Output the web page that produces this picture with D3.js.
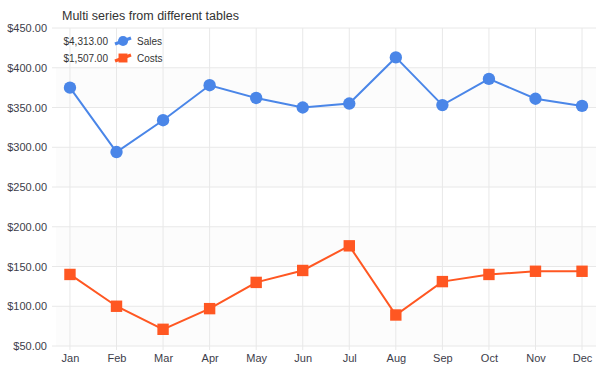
<!DOCTYPE html>
<html>
<head>
<meta charset="utf-8">
<script src="https://cdn.jsdelivr.net/npm/d3@7"></script>
<style>
  body { margin: 0; background: #fff; }
  svg text { font-family: "Liberation Sans", Tahoma, sans-serif; }
</style>
</head>
<body>
<div id="chart"></div>
<script>
// ============ data =====================
var months = ["Jan", "Feb", "Mar", "Apr", "May", "Jun", "Jul", "Aug", "Sep", "Oct", "Nov", "Dec"];
var sales = [375, 294, 334, 378, 362, 350, 355, 413, 353, 386, 361, 352];
var costs = [140, 100, 71, 97, 130, 145, 176, 89, 131, 140, 144, 144];
var yTicks = [50, 100, 150, 200, 250, 300, 350, 400, 450];

//============ set up chart =====================
var svgWidth = 604;
var svgHeight = 374;

var margin = { top: 28, right: 8, bottom: 28, left: 56 };
var width = svgWidth - margin.left - margin.right;
var height = svgHeight - margin.top - margin.bottom;

var svg = d3.select("#chart")
  .append("svg")
  .attr("width", svgWidth)
  .attr("height", svgHeight);

var chartGroup = svg.append("g")
  .attr("transform", `translate(${margin.left}, ${margin.top})`);

var money = d3.format("$,.2f");

var xScale = d3.scalePoint()
  .domain(months)
  .range([0, width])
  .padding(0.3);

var yScale = d3.scaleLinear()
  .domain([50, 450])
  .range([height, 0]);

// alternating bands
chartGroup.append("g")
  .selectAll("rect")
  .data(yTicks.slice(0, -1).filter((d, i) => i % 2 === 0))
  .enter()
  .append("rect")
  .attr("x", 0)
  .attr("width", width)
  .attr("y", d => yScale(d + 50))
  .attr("height", d => yScale(d) - yScale(d + 50))
  .attr("fill", "#fcfcfc");

// grid
chartGroup.append("g")
  .selectAll("line")
  .data(yTicks)
  .enter()
  .append("line")
  .attr("x1", -4)
  .attr("x2", width)
  .attr("y1", d => yScale(d))
  .attr("y2", d => yScale(d))
  .attr("stroke", "#e8e8e8");

chartGroup.append("g")
  .selectAll("line")
  .data(months)
  .enter()
  .append("line")
  .attr("x1", d => xScale(d))
  .attr("x2", d => xScale(d))
  .attr("y1", 0)
  .attr("y2", height + 4)
  .attr("stroke", "#e8e8e8");

// axes
var leftAxis = d3.axisLeft(yScale).tickValues(yTicks).tickFormat(money).tickSize(0).tickPadding(9);
var bottomAxis = d3.axisBottom(xScale).tickSize(0).tickPadding(8);

var yAxis = chartGroup.append("g").call(leftAxis);
var xAxis = chartGroup.append("g")
  .attr("transform", `translate(0, ${height})`)
  .call(bottomAxis);

[yAxis, xAxis].forEach(function(a) {
  a.select(".domain").remove();
  a.selectAll("text").attr("fill", "#3d3d4a").style("font-size", "11px");
});

// lines
var series = [
  { name: "Sales", values: sales, color: "#4a86e8", shape: "circle" },
  { name: "Costs", values: costs, color: "#ff5722", shape: "square" }
];

var line = d3.line()
  .x((d, i) => xScale(months[i]))
  .y(d => yScale(d));

series.forEach(function(s) {
  chartGroup.append("path")
    .datum(s.values)
    .attr("d", line)
    .attr("fill", "none")
    .attr("stroke", s.color)
    .attr("stroke-width", 2);

  var sym = d3.symbol()
    .type(s.shape === "circle" ? d3.symbolCircle : d3.symbolSquare)
    .size(s.shape === "circle" ? 120 : 130);

  chartGroup.append("g")
    .selectAll("path")
    .data(s.values)
    .enter()
    .append("path")
    .attr("d", sym)
    .attr("transform", (d, i) => `translate(${xScale(months[i])}, ${yScale(d)})`)
    .attr("fill", s.color);
});

// title
svg.append("text")
  .attr("x", 62)
  .attr("y", 20)
  .attr("fill", "#333")
  .style("font-size", "12.5px")
  .text("Multi series from different tables");

// legend
var legend = svg.append("g");
series.forEach(function(s, i) {
  var y = 41 + i * 17;
  var total = d3.sum(s.values);
  legend.append("text")
    .attr("x", 108)
    .attr("y", y + 4)
    .attr("text-anchor", "end")
    .attr("fill", "#333")
    .style("font-size", "10px")
    .text(money(total));
  legend.append("line")
    .attr("x1", 115).attr("x2", 131)
    .attr("y1", y + 3).attr("y2", y - 3)
    .attr("stroke", s.color)
    .attr("stroke-width", 3);
  legend.append("path")
    .attr("d", d3.symbol().type(s.shape === "circle" ? d3.symbolCircle : d3.symbolSquare).size(80))
    .attr("transform", `translate(123, ${y})`)
    .attr("fill", s.color);
  legend.append("text")
    .attr("x", 137)
    .attr("y", y + 4)
    .attr("fill", "#333")
    .style("font-size", "10px")
    .text(s.name);
});
</script>
</body>
</html>
